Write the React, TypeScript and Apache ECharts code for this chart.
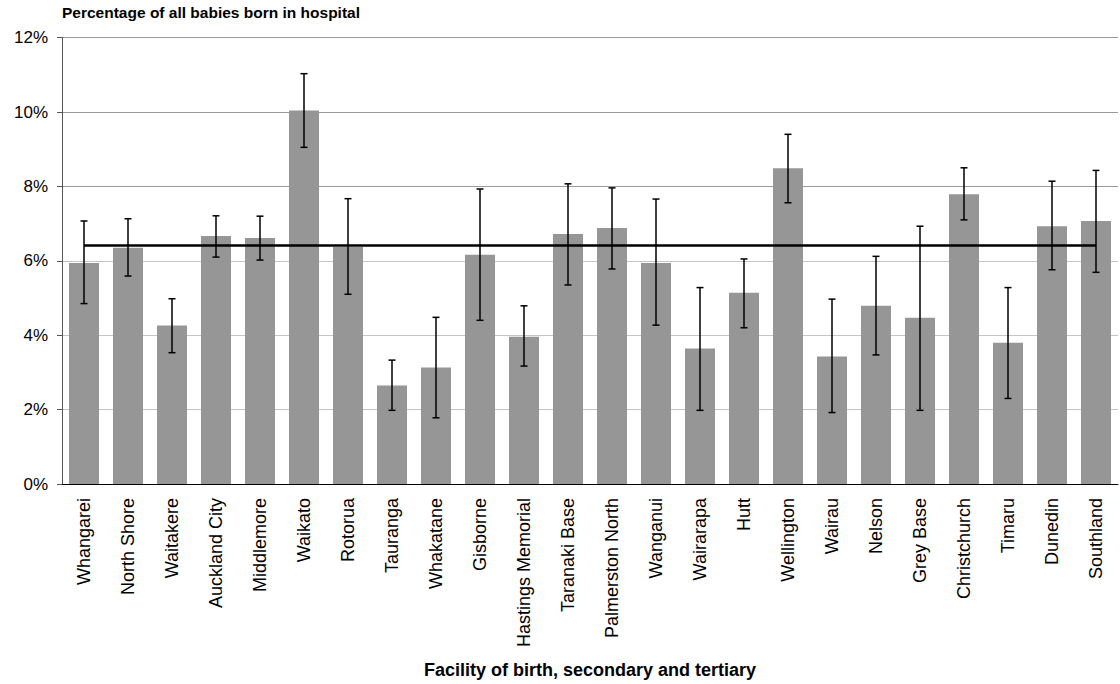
import React, { useEffect, useRef } from "react";
import * as echarts from "echarts";

const categories = [
  "Whangarei", "North Shore", "Waitakere", "Auckland City", "Middlemore", "Waikato",
  "Rotorua", "Tauranga", "Whakatane", "Gisborne", "Hastings Memorial", "Taranaki Base",
  "Palmerston North", "Wanganui", "Wairarapa", "Hutt", "Wellington", "Wairau",
  "Nelson", "Grey Base", "Christchurch", "Timaru", "Dunedin", "Southland",
];
const values = [5.94, 6.35, 4.26, 6.67, 6.61, 10.04, 6.37, 2.65, 3.13, 6.16, 3.96, 6.72, 6.88, 5.94, 3.64, 5.14, 8.49, 3.43, 4.79, 4.47, 7.79, 3.8, 6.93, 7.07];
const upper = [7.07, 7.13, 4.98, 7.21, 7.2, 11.03, 7.67, 3.33, 4.48, 7.93, 4.79, 8.07, 7.96, 7.66, 5.28, 6.05, 9.4, 4.97, 6.12, 6.93, 8.5, 5.28, 8.14, 8.43];
const lower = [4.85, 5.59, 3.53, 6.1, 6.02, 9.05, 5.1, 1.98, 1.78, 4.4, 3.17, 5.35, 5.78, 4.27, 1.98, 4.2, 7.56, 1.92, 3.47, 1.98, 7.1, 2.3, 5.76, 5.69];
const average = 6.43;
const yTicks = { min: 0, max: 12, interval: 2 };

const FONT = "'Liberation Sans', Arial, sans-serif";

export default function App() {
  const ref = useRef<HTMLDivElement>(null);
  useEffect(() => {
    if (!ref.current) return;
    const chart = echarts.init(ref.current, null, { renderer: "svg" });
    chart.setOption({
      animation: false,
      backgroundColor: "#fff",
      textStyle: { fontFamily: FONT },
      title: {
        text: "Percentage of all babies born in hospital",
        left: 62,
        top: 4,
        padding: 0,
        textStyle: { fontFamily: FONT, fontSize: 15.5, fontWeight: "bold", color: "#000" },
      },
      grid: { left: 62, right: 2, top: 37.6, bottom: 198, containLabel: false },
      xAxis: {
        type: "category",
        data: categories,
        axisTick: { show: false },
        axisLine: { lineStyle: { color: "#000", width: 1 } },
        axisLabel: { rotate: 90, margin: 14, fontSize: 18, color: "#000", fontFamily: FONT, interval: 0 },
        name: "Facility of birth, secondary and tertiary",
        nameLocation: "middle",
        nameGap: 177,
        nameTextStyle: { fontSize: 18, fontWeight: "bold", color: "#000", fontFamily: FONT },
      },
      yAxis: {
        type: "value",
        min: yTicks.min,
        max: yTicks.max,
        interval: yTicks.interval,
        axisLine: { show: true, lineStyle: { color: "#555", width: 1 } },
        axisTick: { show: true, length: 5, lineStyle: { color: "#555" } },
        axisLabel: { formatter: "{value}%", margin: 14, fontSize: 17, color: "#000", fontFamily: FONT },
        splitLine: {
          show: true,
          lineStyle: { color: ["#c4c4c4", "#c4c4c4", "#c4c4c4", "#c4c4c4", "#9a9a9a", "#9a9a9a", "#9a9a9a"], width: 1 },
        },
      },
      series: [
        {
          type: "bar",
          data: values,
          barWidth: 30,
          itemStyle: { color: "#969696" },
          z: 2,
          markLine: {
            silent: true,
            symbol: ["none", "none"],
            label: { show: false },
            lineStyle: { color: "#000", width: 2.5, type: "solid" },
            data: [[{ coord: [categories[0], average] }, { coord: [categories[categories.length - 1], average] }]],
            z: 5,
          },
        },
        {
          type: "custom",
          z: 6,
          data: categories.map((c, i) => [i, upper[i], lower[i]]),
          encode: { x: 0, y: [1, 2] },
          renderItem: (params: any, api: any) => {
            const i = api.value(0);
            const hi = api.coord([i, api.value(1)]);
            const lo = api.coord([i, api.value(2)]);
            const hw = 3.5;
            const style = { stroke: "#000", lineWidth: 1.5 };
            return {
              type: "group",
              children: [
                { type: "line", shape: { x1: hi[0], y1: hi[1], x2: lo[0], y2: lo[1] }, style },
                { type: "line", shape: { x1: hi[0] - hw, y1: hi[1], x2: hi[0] + hw, y2: hi[1] }, style },
                { type: "line", shape: { x1: lo[0] - hw, y1: lo[1], x2: lo[0] + hw, y2: lo[1] }, style },
              ],
            };
          },
        },
      ],
    });
    return () => chart.dispose();
  }, []);
  return (
    <div
      ref={ref}
      style={{ position: "fixed", left: 0, top: 0, width: 1120, height: 684, background: "#fff" }}
    />
  );
}
